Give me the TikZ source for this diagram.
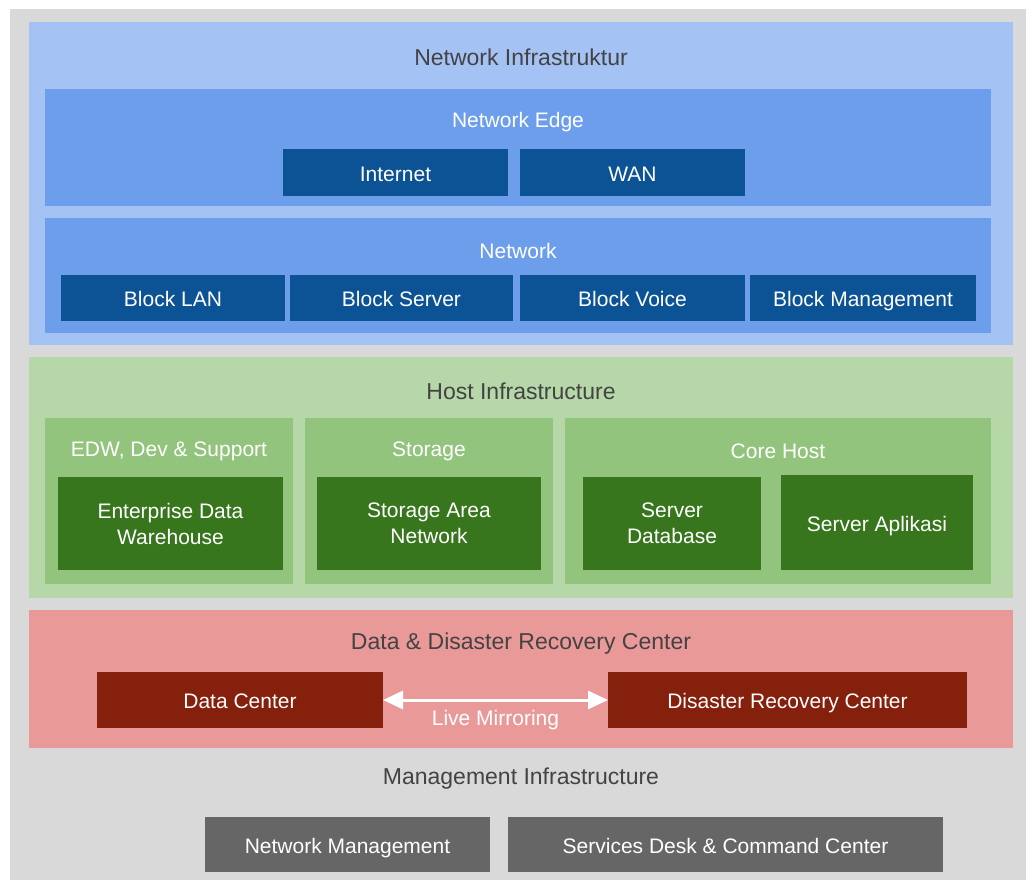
\documentclass[tikz,border=0pt]{standalone}
\usepackage{fontspec}
\setmainfont{Liberation Sans}
\usetikzlibrary{fit,arrows.meta}
\definecolor{bggray}{HTML}{D9D9D9}
\definecolor{titlegray}{HTML}{434343}
\definecolor{blueouter}{HTML}{A4C2F4}
\definecolor{bluemid}{HTML}{6D9EEB}
\definecolor{bluedark}{HTML}{0B5394}
\definecolor{greenouter}{HTML}{B6D7A8}
\definecolor{greenmid}{HTML}{93C47D}
\definecolor{greendark}{HTML}{38761D}
\definecolor{redouter}{HTML}{EA9999}
\definecolor{reddark}{HTML}{85200C}
\definecolor{graydark}{HTML}{666666}
\begin{document}
\begin{tikzpicture}[x=1bp, y=-1bp,
    panel/.style={fill=#1, inner sep=0pt, outer sep=0pt},
    block/.style={fill=#1, inner sep=0pt, outer sep=0pt},
    btext/.style={text=white, align=center, inner sep=0pt,
        font=\fontsize{21bp}{26bp}\selectfont},
    bline/.style={btext, text height=19bp, text depth=2bp},
    title/.style={text=titlegray, font=\fontsize{23bp}{27bp}\selectfont},
    subtitle/.style={text=white, font=\fontsize{21bp}{25bp}\selectfont}]
    \useasboundingbox (0,0) rectangle (1029,880);
    \fill[white] (0,0) rectangle (1029,880);
    \fill[bggray] (10,9) rectangle (1026,880);

    % 1. Network Infrastruktur
    \node[panel=blueouter, fit={(29,22) (1013,345)}] (netinfra) {};
    \node[title] (netinfratitle) at (521,57) {Network Infrastruktur};
    \node[panel=bluemid, fit={(45,89) (991,206)}] (edge) {};
    \node[subtitle] (edgetitle) at (518,122) {Network Edge};
    \node[block=bluedark, fit={(283,149) (508,196)}, label={[bline]center:Internet}] (inet) {};
    \node[block=bluedark, fit={(520,149) (745,196)}, label={[bline]center:WAN}] (wan) {};
    \node[panel=bluemid, fit={(45,218) (991,333)}] (net) {};
    \node[subtitle] (nettitle) at (518,251) {Network};
    \node[block=bluedark, fit={(61,275) (285,321)}, label={[bline]center:Block LAN}] (blan) {};
    \node[block=bluedark, fit={(290,275) (513,321)}, label={[bline]center:Block Server}] (bserver) {};
    \node[block=bluedark, fit={(520,275) (745,321)}, label={[bline]center:Block Voice}] (bvoice) {};
    \node[block=bluedark, fit={(750,275) (976,321)}, label={[bline]center:Block Management}] (bmgmt) {};

    % 2. Host Infrastructure
    \node[panel=greenouter, fit={(29,357) (1013,598)}] (host) {};
    \node[title] (hosttitle) at (521,391) {Host Infrastructure};
    \node[panel=greenmid, fit={(45,418) (293,584)}] (edw) {};
    \node[subtitle] (edwtitle) at (169,451) {EDW, Dev \& Support};
    \node[block=greendark, fit={(58,477) (283,570)}, label={[btext]center:Enterprise Data\\Warehouse}] (edwbox) {};
    \node[panel=greenmid, fit={(305,418) (553,584)}] (stor) {};
    \node[subtitle] (stortitle) at (429,451) {Storage};
    \node[block=greendark, fit={(317,477) (541,570)}, label={[btext]center:Storage Area\\Network}] (san) {};
    \node[panel=greenmid, fit={(565,418) (991,584)}] (core) {};
    \node[subtitle] (coretitle) at (778,451) {Core Host};
    \node[block=greendark, fit={(583,477) (761,570)}, label={[btext]center:Server\\Database}] (sdb) {};
    \node[block=greendark, fit={(781,475) (973,570)}, label={[bline]center:Server Aplikasi}] (sapp) {};

    % 3. Data & Disaster Recovery Center
    \node[panel=redouter, fit={(29,610) (1013,748)}] (ddrc) {};
    \node[title] (ddrctitle) at (521,644) {Data \& Disaster Recovery Center};
    \node[block=reddark, fit={(97,672) (383,728)}, label={[bline]center:Data Center}] (dc) {};
    \node[block=reddark, fit={(608,672) (967,728)}, label={[bline]center:Disaster Recovery Center}] (drc) {};
    \draw[{Triangle[length=20bp,width=18bp]}-{Triangle[length=20bp,width=18bp]}, white, line width=3bp]
        (dc) -- (drc) node[midway, below=5bp, subtitle] {Live Mirroring};

    % 4. Management Infrastructure
    \node[title] (mgmttitle) at (521,779) {Management Infrastructure};
    \node[block=graydark, fit={(205,817) (490,872)}, label={[bline]center:Network Management}] (netmgmt) {};
    \node[block=graydark, fit={(508,817) (943,872)}, label={[bline]center:Services Desk \& Command Center}] (sdesk) {};
\end{tikzpicture}
\end{document}
